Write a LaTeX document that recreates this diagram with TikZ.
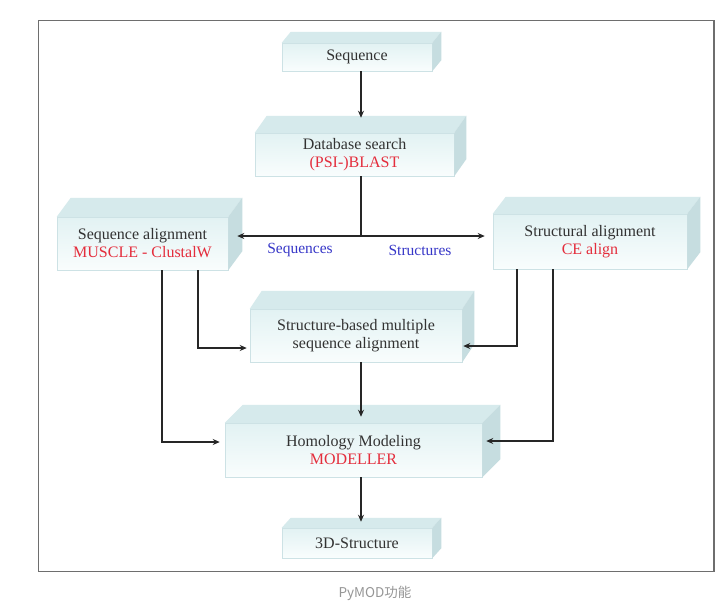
\documentclass[tikz,border=0pt]{standalone}
\usepackage{fontspec}
\setmainfont{Liberation Serif}
\newfontfamily\cjkfont{Noto Sans CJK SC}
\usetikzlibrary{calc,arrows.meta}
\definecolor{txt}{RGB}{50,50,50}
\definecolor{redt}{RGB}{228,45,60}
\definecolor{bluet}{RGB}{55,55,200}
\definecolor{ftop}{RGB}{226,242,243}
\definecolor{fbot}{RGB}{249,253,253}
\definecolor{topf}{RGB}{214,234,236}
\definecolor{sidef}{RGB}{198,221,224}
\definecolor{edgec}{RGB}{205,226,229}
\definecolor{framec}{RGB}{110,110,110}
\definecolor{capc}{RGB}{150,150,150}
\newcommand\cubefaces[3]{%
  \fill[topf] (#1.north west) -- ++(#2,-#3) -- ($(#1.north east)+(#2,-#3)$) -- (#1.north east) -- cycle;
  \fill[sidef] (#1.north east) -- ++(#2,-#3) -- ($(#1.south east)+(#2,-#3)$) -- (#1.south east) -- cycle;
}
\tikzset{
  boxnode/.style={rectangle, inner sep=0pt, top color=ftop, bottom color=fbot, text=txt,
    draw=edgec, line width=0.5pt,
    align=center, font=\fontsize{16}{18}\selectfont},
  arr/.style={-{Stealth[length=7pt,width=6pt]}, line width=1.4pt, black!85},
  ln/.style={line width=1.4pt, black!85},
  lab/.style={text=bluet, font=\fontsize{15.5}{18}\selectfont},
}
\begin{document}
\begin{tikzpicture}[x=1pt,y=-1pt]
\useasboundingbox (0,0) rectangle (726,611);
\fill[white] (0,0) rectangle (726,611);
\draw[framec, line width=1.3pt] (38.5,20.5) rectangle (714,571.5);

% boxes
\node[boxnode, minimum width=150pt, minimum height=28pt] (b1) at (357,57) {Sequence};
\cubefaces{b1}{9}{11}
\node[boxnode, minimum width=199pt, minimum height=43pt] (b2) at (354.5,154.5)
  {Database search\\\textcolor{redt}{(PSI-)BLAST}};
\cubefaces{b2}{12}{17}
\node[boxnode, minimum width=171pt, minimum height=53pt] (b3) at (142.5,243.5)
  {Sequence alignment\\\textcolor{redt}{MUSCLE - ClustalW}};
\cubefaces{b3}{14}{19}
\node[boxnode, minimum width=194pt, minimum height=55pt] (b4) at (590,241.5)
  {Structural alignment\\\textcolor{redt}{CE align}};
\cubefaces{b4}{13}{17}
\node[boxnode, minimum width=212pt, minimum height=53pt] (b5) at (356,335.5)
  {Structure-based multiple\\sequence alignment};
\cubefaces{b5}{12}{18}
\node[boxnode, minimum width=257pt, minimum height=54pt] (b6) at (353.5,450)
  {Homology Modeling\\\textcolor{redt}{MODELLER}};
\cubefaces{b6}{18}{18}
\node[boxnode, minimum width=150pt, minimum height=30pt] (b7) at (357,543) {3D-Structure};
\cubefaces{b7}{9}{10}

% labels
\node[lab] (ls) at (300,250) {Sequences};
\node[lab] (lt) at (420,250) {Structures};

% helper coordinates
\coordinate (sp) at (361,0);
\coordinate (j) at (361,236);
\coordinate (l1) at (162,0);
\coordinate (l2) at (198,0);
\coordinate (r1) at (517,0);
\coordinate (r2) at (553,0);

% connectors
\draw[arr] (b1.south -| sp) -- ($(b2.north -| sp)+(0,-15)$);
\draw[ln] (b2.south -| sp) -- (j);
\draw[arr] (j) -- ($(b3.east |- j)+(9,0)$);
\draw[arr] (j) -- ($(b4.west |- j)+(-8,0)$);
\draw[arr] (b3.south -| l2) |- ($(b5.west)+(-3,12.5)$);
\draw[arr] (b3.south -| l1) |- ($(b6.west)+(-5,-8)$);
\draw[arr] (b4.south -| r1) |- ($(b5.east)+(1,10.5)$);
\draw[arr] (b4.south -| r2) |- ($(b6.east)+(4,-9)$);
\draw[arr] (b5.south -| sp) -- ($(b6.north -| sp)+(0,-6)$);
\draw[arr] (b6.south -| sp) -- ($(b7.north -| sp)+(0,-6)$);

% caption
\node[text=capc, font=\cjkfont\fontsize{13.5}{16}\selectfont] (cap) at (375,593) {PyMOD功能};
\end{tikzpicture}
\end{document}
